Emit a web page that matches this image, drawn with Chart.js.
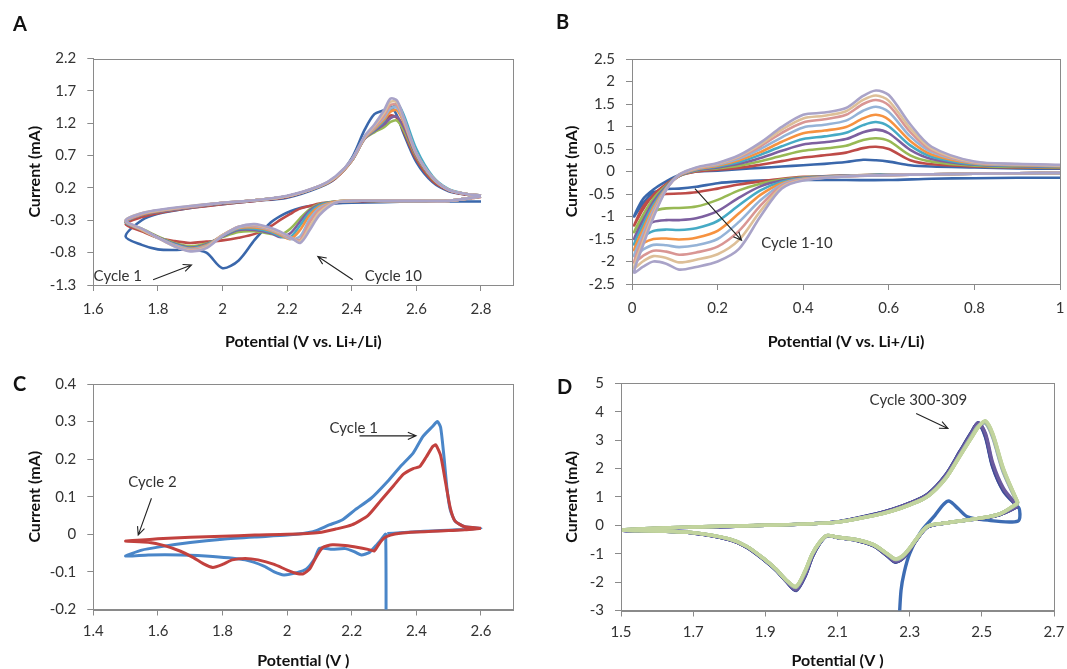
<!DOCTYPE html>
<html>
<head>
<meta charset="utf-8">
<script src="https://cdn.jsdelivr.net/npm/chart.js@4.4.0/dist/chart.umd.min.js"></script>
<style>
html,body{margin:0;padding:0;background:#fff;overflow:hidden;}
#wrap{position:relative;width:1067px;height:669px;overflow:hidden;background:#fff;}
#wrap canvas{position:absolute;}
.lbl{position:absolute;font-family:Lato,"Open Sans",sans-serif;font-weight:bold;font-size:20px;line-height:20px;color:#111;}
</style>
</head>
<body>
<div id="wrap">
  <canvas id="cA" width="533" height="350" style="left:0px;top:0px"></canvas>
  <canvas id="cB" width="534" height="350" style="left:533px;top:0px"></canvas>
  <canvas id="cC" width="533" height="329" style="left:0px;top:340px"></canvas>
  <canvas id="cD" width="534" height="329" style="left:533px;top:340px"></canvas>
  <div class="lbl" style="left:13px;top:13px">A</div>
  <div class="lbl" style="left:556px;top:11px">B</div>
  <div class="lbl" style="left:13px;top:373px">C</div>
  <div class="lbl" style="left:557px;top:376px">D</div>
</div>
<script>
// ---------------- Panel A : cycles 1-10 (potential sweep 2.8 -> 1.7 -> 2.8) ----------------
const aPotential = [2.80,2.70,2.60,2.50,2.40,2.35,2.30,2.27,2.24,2.21,2.18,2.15,2.10,2.05,2.00,1.95,1.90,1.85,1.80,1.75,1.70,
                    1.75,1.80,1.90,2.00,2.10,2.20,2.30,2.35,2.40,2.44,2.47,2.50,2.52,2.54,2.56,2.60,2.65,2.70,2.75,2.80];
const aCycle1  = [-0.01,-0.01,-0.01,-0.02,-0.03,-0.04,-0.06,-0.08,-0.11,-0.16,-0.23,-0.33,-0.60,-0.92,-1.04,-0.80,-0.75,-0.76,-0.75,-0.68,-0.55,
                  -0.30,-0.20,-0.11,-0.05,0.00,0.05,0.21,0.35,0.66,1.10,1.34,1.40,1.46,1.32,1.05,0.60,0.29,0.15,0.10,0.08];
const aCycle2  = [0.06,0.00,0.00,0.00,-0.01,-0.02,-0.04,-0.08,-0.12,-0.20,-0.29,-0.39,-0.51,-0.57,-0.61,-0.63,-0.65,-0.62,-0.57,-0.47,-0.36,
                  -0.25,-0.19,-0.11,-0.05,0.00,0.06,0.22,0.35,0.62,0.98,1.12,1.22,1.32,1.28,1.08,0.64,0.31,0.16,0.10,0.08];
const aCycle3  = [0.07,0.00,0.00,0.00,0.00,-0.01,-0.05,-0.13,-0.27,-0.43,-0.52,-0.51,-0.47,-0.48,-0.56,-0.66,-0.70,-0.65,-0.55,-0.43,-0.33,
                  -0.22,-0.17,-0.10,-0.04,0.01,0.07,0.22,0.36,0.62,0.96,1.06,1.14,1.22,1.24,1.10,0.68,0.34,0.17,0.11,0.08];
const aCycle4  = [0.07,0.00,0.00,0.00,0.00,-0.01,-0.06,-0.15,-0.32,-0.50,-0.56,-0.50,-0.45,-0.45,-0.55,-0.67,-0.72,-0.66,-0.56,-0.44,-0.33,
                  -0.22,-0.17,-0.10,-0.04,0.01,0.07,0.22,0.36,0.62,0.96,1.08,1.18,1.28,1.30,1.15,0.70,0.35,0.17,0.11,0.08];
const aCycle5  = [0.07,0.00,0.00,0.00,0.00,-0.01,-0.07,-0.18,-0.38,-0.56,-0.55,-0.48,-0.43,-0.43,-0.54,-0.68,-0.73,-0.67,-0.57,-0.45,-0.33,
                  -0.21,-0.16,-0.09,-0.03,0.01,0.07,0.22,0.36,0.62,0.97,1.10,1.24,1.40,1.50,1.34,0.80,0.38,0.18,0.11,0.08];
const aCycle6  = [0.07,0.00,0.00,0.00,0.00,-0.01,-0.09,-0.22,-0.45,-0.59,-0.53,-0.46,-0.41,-0.42,-0.53,-0.69,-0.74,-0.68,-0.57,-0.45,-0.32,
                  -0.21,-0.16,-0.09,-0.03,0.01,0.07,0.22,0.36,0.62,0.97,1.11,1.26,1.38,1.40,1.22,0.72,0.36,0.17,0.11,0.08];
const aCycle7  = [0.07,0.00,0.00,0.00,0.00,-0.02,-0.11,-0.28,-0.55,-0.59,-0.51,-0.45,-0.39,-0.41,-0.53,-0.70,-0.75,-0.68,-0.57,-0.44,-0.32,
                  -0.20,-0.15,-0.09,-0.03,0.01,0.07,0.23,0.37,0.63,0.98,1.13,1.29,1.43,1.44,1.25,0.73,0.36,0.17,0.11,0.08];
const aCycle8  = [0.07,0.00,0.00,0.00,0.00,-0.02,-0.14,-0.33,-0.60,-0.57,-0.50,-0.44,-0.38,-0.40,-0.53,-0.71,-0.76,-0.69,-0.57,-0.44,-0.31,
                  -0.20,-0.15,-0.09,-0.03,0.01,0.07,0.23,0.37,0.63,0.98,1.14,1.32,1.48,1.48,1.26,0.73,0.36,0.17,0.11,0.08];
const aCycle9  = [0.07,0.00,0.00,0.00,0.00,-0.02,-0.18,-0.40,-0.63,-0.56,-0.49,-0.43,-0.37,-0.40,-0.53,-0.72,-0.77,-0.70,-0.57,-0.44,-0.30,
                  -0.19,-0.15,-0.08,-0.03,0.01,0.07,0.23,0.37,0.64,0.99,1.16,1.36,1.53,1.52,1.28,0.74,0.36,0.17,0.11,0.08];
const aCycle10 = [0.07,0.00,0.00,0.00,0.00,-0.03,-0.22,-0.45,-0.65,-0.56,-0.48,-0.42,-0.36,-0.40,-0.54,-0.73,-0.78,-0.70,-0.57,-0.43,-0.30,
                  -0.19,-0.14,-0.08,-0.03,0.01,0.08,0.23,0.38,0.64,1.00,1.18,1.40,1.58,1.55,1.30,0.74,0.36,0.17,0.11,0.08];
const aXTicks = [1.6,1.8,2.0,2.2,2.4,2.6,2.8];
const aYTicks = [-1.3,-0.8,-0.3,0.2,0.7,1.2,1.7,2.2];

// ---------------- Panel B : cycles 1-10 (1.0 -> 0.005 -> 1.0 V) ----------------
const bPotential = [1.0,0.9,0.8,0.7,0.6,0.5,0.4,0.35,0.3,0.25,0.2,0.15,0.11,0.08,0.05,0.025,0.005,
                    0.025,0.05,0.08,0.11,0.15,0.2,0.25,0.3,0.35,0.4,0.45,0.5,0.54,0.57,0.6,0.65,0.7,0.8,0.9,1.0];
const bCycle1  = [-0.14,-0.14,-0.15,-0.16,-0.19,-0.19,-0.19,-0.19,-0.20,-0.22,-0.26,-0.34,-0.38,-0.39,-0.47,-0.72,-1.00,
                  -0.62,-0.40,-0.22,-0.08,0.00,0.02,0.05,0.08,0.11,0.14,0.17,0.21,0.26,0.25,0.22,0.14,0.11,0.09,0.07,0.06];
const bCycle2  = [-0.03,-0.04,-0.05,-0.06,-0.07,-0.09,-0.12,-0.16,-0.22,-0.29,-0.38,-0.46,-0.49,-0.50,-0.55,-0.80,-1.20,
                  -0.85,-0.52,-0.28,-0.10,0.00,0.04,0.08,0.15,0.23,0.31,0.36,0.42,0.52,0.55,0.50,0.25,0.16,0.11,0.09,0.08];
const bCycle3  = [-0.03,-0.04,-0.05,-0.06,-0.07,-0.09,-0.13,-0.18,-0.27,-0.42,-0.63,-0.78,-0.81,-0.82,-0.88,-1.05,-1.35,
                  -0.98,-0.60,-0.31,-0.10,0.02,0.07,0.13,0.23,0.35,0.46,0.51,0.57,0.70,0.74,0.68,0.36,0.22,0.13,0.10,0.09];
const bCycle4  = [-0.03,-0.04,-0.05,-0.06,-0.07,-0.09,-0.14,-0.20,-0.33,-0.58,-0.88,-1.04,-1.08,-1.08,-1.12,-1.28,-1.50,
                  -1.10,-0.67,-0.33,-0.10,0.03,0.09,0.17,0.30,0.46,0.60,0.65,0.72,0.87,0.93,0.85,0.48,0.28,0.15,0.12,0.10];
const bCycle5  = [-0.03,-0.04,-0.05,-0.06,-0.07,-0.10,-0.15,-0.23,-0.42,-0.75,-1.10,-1.26,-1.30,-1.29,-1.32,-1.45,-1.62,
                  -1.20,-0.74,-0.35,-0.09,0.04,0.11,0.21,0.37,0.56,0.72,0.78,0.86,1.03,1.10,1.00,0.58,0.33,0.16,0.13,0.11];
const bCycle6  = [-0.03,-0.04,-0.05,-0.06,-0.08,-0.10,-0.16,-0.26,-0.52,-0.93,-1.32,-1.47,-1.51,-1.49,-1.50,-1.60,-1.75,
                  -1.30,-0.80,-0.37,-0.09,0.05,0.13,0.25,0.43,0.66,0.85,0.91,0.99,1.18,1.26,1.15,0.68,0.38,0.18,0.14,0.12];
const bCycle7  = [-0.03,-0.04,-0.05,-0.06,-0.08,-0.10,-0.17,-0.29,-0.64,-1.12,-1.50,-1.64,-1.68,-1.64,-1.63,-1.74,-1.88,
                  -1.40,-0.86,-0.38,-0.08,0.06,0.15,0.29,0.50,0.76,0.98,1.04,1.13,1.35,1.44,1.32,0.78,0.43,0.19,0.15,0.13];
const bCycle8  = [-0.03,-0.04,-0.05,-0.06,-0.08,-0.11,-0.18,-0.32,-0.76,-1.32,-1.67,-1.80,-1.85,-1.78,-1.76,-1.88,-2.02,
                  -1.50,-0.92,-0.39,-0.08,0.07,0.17,0.32,0.56,0.86,1.09,1.16,1.26,1.50,1.59,1.47,0.88,0.47,0.20,0.16,0.14];
const bCycle9  = [-0.03,-0.04,-0.05,-0.06,-0.08,-0.11,-0.19,-0.35,-0.88,-1.52,-1.84,-1.96,-2.02,-1.92,-1.88,-2.00,-2.14,
                  -1.58,-0.97,-0.40,-0.07,0.08,0.18,0.34,0.60,0.93,1.18,1.24,1.34,1.59,1.69,1.57,0.96,0.51,0.21,0.16,0.14];
const bCycle10 = [-0.03,-0.04,-0.05,-0.06,-0.08,-0.11,-0.20,-0.38,-1.00,-1.72,-2.00,-2.12,-2.18,-2.05,-2.00,-2.12,-2.24,
                  -1.66,-1.02,-0.41,-0.07,0.09,0.19,0.36,0.64,0.99,1.26,1.31,1.41,1.68,1.80,1.70,1.05,0.55,0.22,0.17,0.15];
const bXTicks = [0,0.2,0.4,0.6,0.8,1];
const bYTicks = [-2.5,-2,-1.5,-1,-0.5,0,0.5,1,1.5,2,2.5];

// ---------------- Panel C : cycle 1 and cycle 2 ----------------
const cCycle1Potential = [2.305,2.305,2.29,2.275,2.255,2.23,2.21,2.18,2.14,2.10,2.085,2.06,2.03,1.99,1.96,1.93,1.87,1.77,1.67,1.57,1.50,
                          1.55,1.60,1.70,1.80,1.90,2.00,2.08,2.13,2.17,2.21,2.26,2.31,2.35,2.39,2.42,2.45,2.465,2.475,2.485,2.495,2.505,2.52,2.55,2.60,
                          2.55,2.50,2.45,2.40,2.35,2.31];
const cCycle1Current   = [-0.60,0.000,-0.015,-0.030,-0.048,-0.055,-0.047,-0.038,-0.040,-0.037,-0.065,-0.092,-0.102,-0.108,-0.100,-0.085,-0.068,-0.059,-0.055,-0.055,-0.058,
                          -0.042,-0.034,-0.022,-0.013,-0.007,-0.002,0.007,0.025,0.038,0.065,0.096,0.140,0.180,0.216,0.260,0.287,0.300,0.285,0.210,0.120,0.065,0.035,0.020,0.016,
                          0.013,0.011,0.009,0.007,0.004,0.002];
const cCycle2Potential = [2.60,2.55,2.50,2.45,2.40,2.35,2.32,2.30,2.285,2.27,2.25,2.22,2.18,2.14,2.11,2.09,2.07,2.05,2.03,2.00,
                          1.96,1.91,1.87,1.83,1.80,1.77,1.74,1.71,1.67,1.62,1.57,1.50,
                          1.55,1.60,1.70,1.80,1.90,2.00,2.10,2.15,2.20,2.25,2.29,2.33,2.36,2.39,2.41,2.43,2.45,2.46,2.475,2.49,2.505,2.52,2.55,2.60];
const cCycle2Current   = [0.016,0.012,0.010,0.008,0.006,0.003,-0.002,-0.010,-0.025,-0.044,-0.040,-0.035,-0.030,-0.028,-0.035,-0.060,-0.092,-0.105,-0.104,-0.095,
                          -0.080,-0.068,-0.064,-0.068,-0.080,-0.088,-0.078,-0.062,-0.045,-0.030,-0.021,-0.018,
                          -0.015,-0.012,-0.008,-0.005,-0.002,0.000,0.005,0.014,0.025,0.050,0.090,0.130,0.160,0.175,0.180,0.205,0.233,0.238,0.210,0.140,0.070,0.035,0.020,0.016];
const cXTicks = [1.4,1.6,1.8,2.0,2.2,2.4,2.6];
const cYTicks = [-0.2,-0.1,0,0.1,0.2,0.3,0.4];

// ---------------- Panel D : cycles 300-309 ----------------
const dInitialPotential = [2.270,2.276,2.285,2.300,2.330,2.370,2.395,2.410,2.435,2.460,2.500,2.600];
const dInitialCurrent   = [-3.60,-2.30,-1.65,-1.00,-0.25,0.35,0.75,0.85,0.58,0.30,0.20,0.15];
const dPotential = [2.60,2.55,2.50,2.45,2.40,2.35,2.32,2.30,2.28,2.26,2.24,2.20,2.15,2.10,2.07,2.05,2.03,2.01,1.985,1.96,1.93,1.90,1.85,1.80,1.70,1.60,1.50,
                    1.60,1.70,1.80,1.90,2.00,2.10,2.20,2.25,2.30,2.35,2.40,2.44,2.47,2.49,2.51,2.53,2.56,2.60];
const dCycle300 = [0.65,0.38,0.25,0.17,0.08,-0.05,-0.50,-0.88,-1.18,-1.30,-1.10,-0.72,-0.52,-0.43,-0.37,-0.65,-1.12,-1.80,-2.30,-2.00,-1.58,-1.25,-0.78,-0.50,-0.27,-0.20,-0.18,
                   -0.11,-0.07,-0.04,0.00,0.04,0.12,0.38,0.55,0.78,1.10,1.78,2.62,3.25,3.60,3.10,2.05,1.20,0.65];
const dCycle301 = [0.66,0.38,0.25,0.17,0.08,-0.05,-0.49,-0.87,-1.17,-1.29,-1.09,-0.72,-0.52,-0.43,-0.37,-0.64,-1.11,-1.78,-2.29,-2.00,-1.58,-1.25,-0.78,-0.50,-0.27,-0.20,-0.18,
                   -0.11,-0.07,-0.04,0.00,0.04,0.12,0.38,0.55,0.78,1.09,1.77,2.61,3.24,3.60,3.14,2.08,1.22,0.66];
const dCycle302 = [0.66,0.38,0.25,0.17,0.08,-0.05,-0.49,-0.87,-1.17,-1.28,-1.09,-0.72,-0.52,-0.43,-0.37,-0.64,-1.10,-1.78,-2.28,-2.00,-1.58,-1.25,-0.78,-0.50,-0.27,-0.20,-0.18,
                   -0.11,-0.07,-0.04,0.00,0.04,0.12,0.37,0.55,0.77,1.09,1.76,2.60,3.23,3.61,3.18,2.12,1.25,0.67];
const dCycle303 = [0.67,0.38,0.25,0.17,0.08,-0.05,-0.49,-0.86,-1.16,-1.27,-1.08,-0.71,-0.52,-0.43,-0.37,-0.64,-1.09,-1.76,-2.27,-1.99,-1.57,-1.24,-0.77,-0.50,-0.27,-0.20,-0.18,
                   -0.11,-0.07,-0.04,0.00,0.04,0.12,0.37,0.54,0.77,1.08,1.75,2.58,3.21,3.60,3.24,2.20,1.30,0.67];
const dCycle304 = [0.75,0.40,0.26,0.17,0.08,-0.04,-0.47,-0.82,-1.11,-1.21,-1.04,-0.69,-0.50,-0.42,-0.36,-0.62,-1.03,-1.66,-2.19,-1.97,-1.56,-1.23,-0.76,-0.49,-0.26,-0.20,-0.17,
                   -0.10,-0.06,-0.03,0.00,0.04,0.11,0.35,0.51,0.73,1.03,1.68,2.50,3.12,3.50,3.60,3.10,1.85,0.75];
const dCycle305 = [0.76,0.40,0.26,0.17,0.08,-0.04,-0.47,-0.82,-1.10,-1.20,-1.03,-0.69,-0.50,-0.42,-0.36,-0.61,-1.02,-1.64,-2.18,-1.96,-1.55,-1.22,-0.75,-0.48,-0.26,-0.20,-0.17,
                   -0.10,-0.06,-0.03,0.00,0.04,0.11,0.35,0.51,0.73,1.03,1.67,2.48,3.10,3.49,3.62,3.15,1.90,0.76];
const dCycle306 = [0.77,0.40,0.26,0.17,0.08,-0.03,-0.46,-0.81,-1.10,-1.19,-1.03,-0.69,-0.50,-0.42,-0.36,-0.61,-1.01,-1.63,-2.17,-1.96,-1.55,-1.22,-0.75,-0.48,-0.26,-0.20,-0.17,
                   -0.10,-0.06,-0.03,0.00,0.04,0.11,0.34,0.50,0.72,1.02,1.66,2.47,3.08,3.47,3.64,3.18,1.93,0.77];
const dCycle307 = [0.78,0.40,0.26,0.17,0.08,-0.03,-0.46,-0.80,-1.09,-1.19,-1.02,-0.68,-0.50,-0.42,-0.36,-0.61,-1.01,-1.62,-2.16,-1.95,-1.55,-1.22,-0.75,-0.48,-0.26,-0.20,-0.17,
                   -0.10,-0.06,-0.03,0.00,0.04,0.11,0.34,0.50,0.72,1.02,1.66,2.46,3.06,3.46,3.66,3.20,1.95,0.78];
const dCycle308 = [0.79,0.40,0.26,0.17,0.08,-0.03,-0.45,-0.80,-1.08,-1.18,-1.02,-0.68,-0.50,-0.42,-0.36,-0.60,-1.00,-1.61,-2.15,-1.95,-1.55,-1.22,-0.75,-0.48,-0.26,-0.20,-0.17,
                   -0.10,-0.06,-0.03,0.00,0.04,0.11,0.34,0.50,0.72,1.02,1.65,2.45,3.05,3.45,3.67,3.22,1.98,0.79];
const dCycle309 = [0.80,0.40,0.26,0.17,0.08,-0.03,-0.45,-0.80,-1.08,-1.18,-1.02,-0.68,-0.50,-0.42,-0.36,-0.60,-1.00,-1.60,-2.15,-1.95,-1.55,-1.22,-0.75,-0.48,-0.26,-0.20,-0.17,
                   -0.10,-0.06,-0.03,0.00,0.04,0.11,0.34,0.50,0.72,1.02,1.65,2.45,3.05,3.45,3.68,3.25,2.00,0.80];
const dXTicks = [1.5,1.7,1.9,2.1,2.3,2.5,2.7];
const dYTicks = [-3,-2,-1,0,1,2,3,4,5];

// ---------------- rendering ----------------
const FONT = 'Lato, "Open Sans", sans-serif';
const AXIS_GREY = '#8a8a8a';
const PALETTE10 = ['#3A67AB','#BE4B48','#98B954','#7D60A0','#46AAC5','#F69240','#95B3D7','#D99694','#DDBF98','#A9A3C8'];
const D_COLORS = ['#3D6CB3','#4B3F8C','#3F4F95','#6A5A9E','#8EA0BE','#9DB0B0','#A8BF98','#B0C594','#B9CC97','#C2D49E'];

function pts(xs, ys) { return xs.map((x, i) => ({ x: x, y: ys[i] })); }

function framePlugin(notes, arrows) {
  return {
    id: 'frameNotes',
    afterDatasetsDraw(chart) {
      const ctx = chart.ctx, a = chart.chartArea;
      ctx.save();
      ctx.strokeStyle = AXIS_GREY; ctx.lineWidth = 1;
      const l = Math.round(a.left), t = Math.round(a.top), r = Math.round(a.right), b = Math.round(a.bottom);
      ctx.strokeRect(l + 0.5, t + 0.5, r - l, b - t);
      const xs = chart.scales.x, ys = chart.scales.y;
      ctx.fillStyle = '#333'; ctx.font = '15px ' + FONT; ctx.textBaseline = 'middle'; ctx.textAlign = 'left';
      notes.forEach(n => ctx.fillText(n.text, xs.getPixelForValue(n.x), ys.getPixelForValue(n.y)));
      ctx.strokeStyle = '#222'; ctx.lineWidth = 1.1;
      arrows.forEach(w => {
        const x1 = xs.getPixelForValue(w.x1), y1 = ys.getPixelForValue(w.y1);
        const x2 = xs.getPixelForValue(w.x2), y2 = ys.getPixelForValue(w.y2);
        const ang = Math.atan2(y2 - y1, x2 - x1), L = 9, sp = 0.42;
        ctx.beginPath();
        ctx.moveTo(x1, y1); ctx.lineTo(x2, y2);
        ctx.moveTo(x2 - L * Math.cos(ang - sp), y2 - L * Math.sin(ang - sp));
        ctx.lineTo(x2, y2);
        ctx.lineTo(x2 - L * Math.cos(ang + sp), y2 - L * Math.sin(ang + sp));
        ctx.stroke();
      });
      ctx.restore();
    }
  };
}

function build(id, o) {
  const datasets = o.series.map((s, i) => ({
    data: pts(s.x, s.y), borderColor: s.color, backgroundColor: s.color,
    borderWidth: o.lw, pointRadius: 0, pointHoverRadius: 0, showLine: true, fill: false,
    tension: o.tension, order: 100 - i
  }));
  const tickFont = { family: FONT, size: 15 };
  const titleFont = { family: FONT, size: 16, weight: 'bold', lineHeight: 1 };
  return new Chart(document.getElementById(id), {
    type: 'scatter',
    data: { datasets: datasets },
    options: {
      responsive: false, animation: false, events: [],
      layout: { padding: o.pad },
      plugins: { legend: { display: false }, tooltip: { enabled: false } },
      scales: {
        x: {
          type: 'linear', position: 'bottom', min: o.xMin, max: o.xMax,
          afterBuildTicks: s => { s.ticks = o.xTicks.map(v => ({ value: v })); },
          afterFit: s => { s.height = o.xH; s.paddingLeft = 0; s.paddingRight = 0; },
          ticks: { autoSkip: false, maxRotation: 0, minRotation: 0, padding: o.xTickPad, color: '#333', font: tickFont, callback: v => String(v) },
          grid: { display: true, drawOnChartArea: false, drawTicks: true, tickLength: 6, tickColor: AXIS_GREY },
          border: { display: true, color: AXIS_GREY },
          title: { display: true, text: o.xTitle, color: '#111', font: titleFont, padding: { top: 0, bottom: 0 } }
        },
        y: {
          type: 'linear', position: 'left', min: o.yMin, max: o.yMax,
          afterBuildTicks: s => { s.ticks = o.yTicks.map(v => ({ value: v })); },
          afterFit: s => { s.width = o.yW; s.paddingTop = 0; s.paddingBottom = 0; },
          ticks: { autoSkip: false, padding: 11, color: '#333', font: tickFont, callback: v => String(v) },
          grid: { display: true, drawOnChartArea: false, drawTicks: true, tickLength: 6, tickColor: AXIS_GREY },
          border: { display: true, color: AXIS_GREY },
          title: { display: true, text: 'Current (mA)', color: '#111', font: titleFont, padding: { top: o.yTitlePad, bottom: 0 } }
        }
      }
    },
    plugins: [framePlugin(o.notes, o.arrows)]
  });
}

const aSeries = [aCycle1,aCycle2,aCycle3,aCycle4,aCycle5,aCycle6,aCycle7,aCycle8,aCycle9,aCycle10]
  .map((y, i) => ({ x: aPotential, y: y, color: PALETTE10[i] }));
build('cA', {
  series: aSeries, lw: 2.6, tension: 0.3,
  xMin: 1.6, xMax: 2.9, yMin: -1.3, yMax: 2.2, xTicks: aXTicks, yTicks: aYTicks,
  pad: { left: 0, top: 58.5, right: 19.7, bottom: 0 }, yW: 93.3, xH: 65, xTickPad: 9, yTitlePad: 27,
  xTitle: 'Potential (V vs. Li+/Li)',
  notes: [{ text: 'Cycle 1', x: 1.601, y: -1.17 }, { text: 'Cycle 10', x: 2.44, y: -1.17 }],
  arrows: [{ x1: 1.785, y1: -1.22, x2: 1.904, y2: -0.99 }, { x1: 2.403, y1: -1.22, x2: 2.295, y2: -0.86 }]
});

const bSeries = [bCycle1,bCycle2,bCycle3,bCycle4,bCycle5,bCycle6,bCycle7,bCycle8,bCycle9,bCycle10]
  .map((y, i) => ({ x: bPotential, y: y, color: PALETTE10[i] }));
build('cB', {
  series: bSeries, lw: 2.6, tension: 0.3,
  xMin: 0, xMax: 1, yMin: -2.5, yMax: 2.5, xTicks: bXTicks, yTicks: bYTicks,
  pad: { left: 0, top: 59, right: 7, bottom: 0 }, yW: 99, xH: 66, xTickPad: 9, yTitlePad: 31,
  xTitle: 'Potential (V vs. Li+/Li)',
  notes: [{ text: 'Cycle 1-10', x: 0.302, y: -1.585 }],
  arrows: [{ x1: 0.147, y1: -0.38, x2: 0.256, y2: -1.53 }]
});

build('cC', {
  series: [
    { x: cCycle1Potential, y: cCycle1Current, color: '#4A86C8' },
    { x: cCycle2Potential, y: cCycle2Current, color: '#C2413E' }
  ], lw: 3, tension: 0.2,
  xMin: 1.4, xMax: 2.7, yMin: -0.2, yMax: 0.4, xTicks: cXTicks, yTicks: cYTicks,
  pad: { left: 0, top: 44, right: 19.7, bottom: 0 }, yW: 93.3, xH: 59.5, xTickPad: 7, yTitlePad: 27,
  xTitle: 'Potential (V )',
  notes: [{ text: 'Cycle 1', x: 2.131, y: 0.282 }, { text: 'Cycle 2', x: 1.508, y: 0.14 }],
  arrows: [{ x1: 2.224, y1: 0.262, x2: 2.399, y2: 0.262 }, { x1: 1.58, y1: 0.096, x2: 1.539, y2: -0.002 }]
});

const dCycles = [dCycle300,dCycle301,dCycle302,dCycle303,dCycle304,dCycle305,dCycle306,dCycle307,dCycle308,dCycle309];
const dSeries = dCycles.map((y, i) => i === 0
  ? { x: dInitialPotential.concat(dPotential), y: dInitialCurrent.concat(y), color: D_COLORS[i] }
  : { x: dPotential, y: y, color: D_COLORS[i] });
build('cD', {
  series: dSeries, lw: 3.4, tension: 0.3,
  xMin: 1.5, xMax: 2.7, yMin: -3, yMax: 5, xTicks: dXTicks, yTicks: dYTicks,
  pad: { left: 0, top: 43.3, right: 13, bottom: 0 }, yW: 88, xH: 58.5, xTickPad: 7, yTitlePad: 31,
  xTitle: 'Potential (V )',
  notes: [{ text: 'Cycle 300-309', x: 2.189, y: 4.41 }],
  arrows: [{ x1: 2.318, y1: 3.94, x2: 2.406, y2: 3.41 }]
});
</script>
</body>
</html>
